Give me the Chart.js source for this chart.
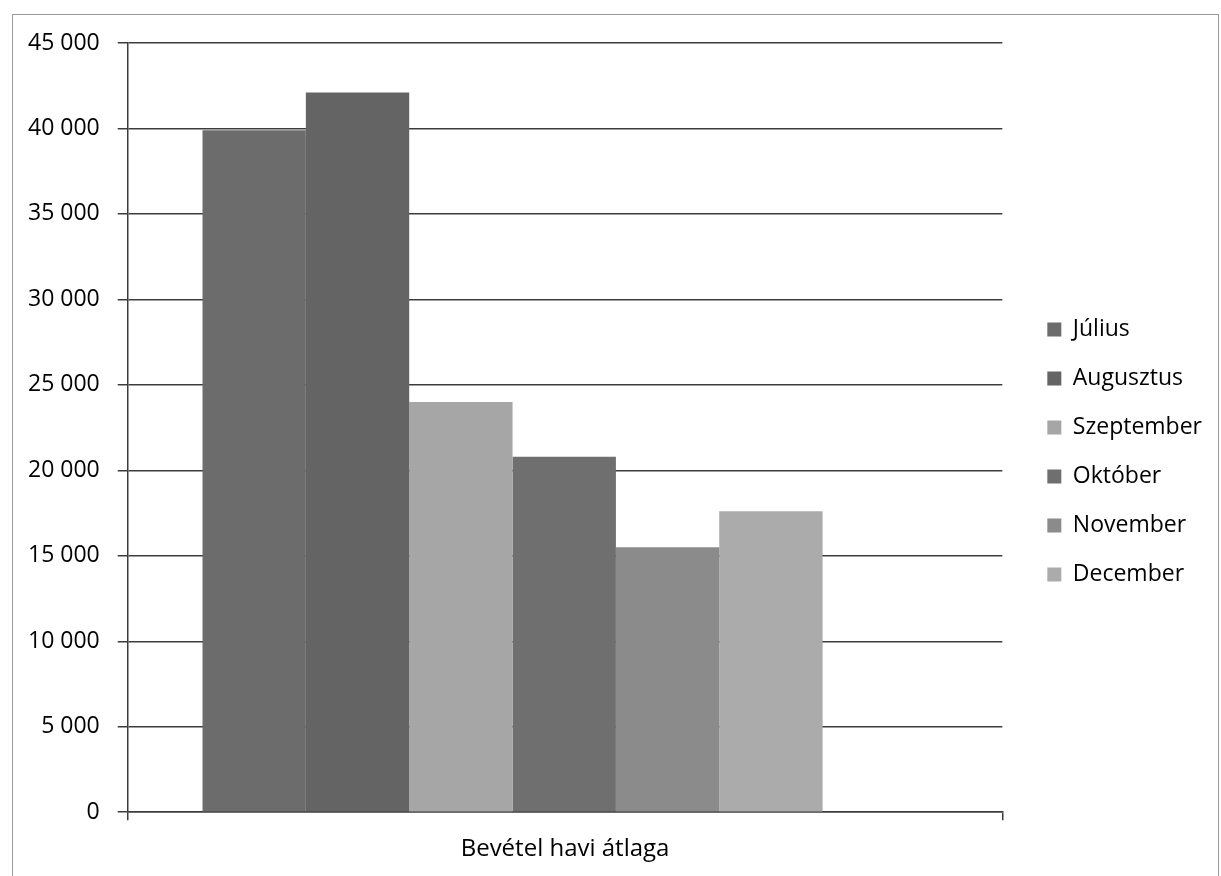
<!DOCTYPE html>
<html>
<head>
<meta charset="utf-8">
<script src="https://cdn.jsdelivr.net/npm/chart.js@4/dist/chart.umd.min.js"></script>
<style>
  html, body { margin: 0; padding: 0; background: #fff; }
  #wrap { position: relative; width: 1221px; height: 876px; }
  #frame {
    position: absolute; left: 12px; top: 14px; width: 1207px; height: 870px;
    border: 1px solid #9a9a9a; box-sizing: border-box; pointer-events: none;
  }
  canvas { position: absolute; left: 0; top: 0; }
</style>
</head>
<body>
<div id="wrap">
  <canvas id="chart" width="1221" height="876"></canvas>
  <div id="frame"></div>
</div>
<script>
// chart data
const categories = ["Bevétel havi átlaga"];
const months = ["Július", "Augusztus", "Szeptember", "Október", "November", "December"];
const monthValues = [39900, 42100, 24000, 20800, 15500, 17600];
const yTicks = [0, 5000, 10000, 15000, 20000, 25000, 30000, 35000, 40000, 45000];

const barColors = ["#6c6c6c", "#646464", "#a6a6a6", "#6f6f6f", "#8b8b8b", "#ababab"];
const gridColor = "#3c3c3c";
const fontFamily = "'Open Sans', 'Noto Sans', sans-serif";

// "45 000" style thousands separator
const fmt = v => String(v).replace(/\B(?=(\d{3})+(?!\d))/g, " ");

const datasets = months.map((m, i) => ({
  label: m,
  data: categories.map((c, ci) => ({ x: ci, y: monthValues[i] })),
  backgroundColor: barColors[i],
  borderWidth: 0,
  categoryPercentage: 0.709,
  barPercentage: 1.0
}));

new Chart(document.getElementById("chart"), {
  type: "bar",
  data: { datasets },
  options: {
    responsive: false,
    animation: false,
    devicePixelRatio: 1,
    layout: { padding: { top: 28, left: 10, right: 9, bottom: 0 } },
    plugins: {
      tooltip: { enabled: false },
      legend: {
        position: "right",
        labels: {
          boxWidth: 14,
          boxHeight: 14,
          padding: 26,
          color: "#000",
          font: { family: fontFamily, size: 23 }
        }
      }
    },
    scales: {
      x: {
        type: "linear",
        min: -44,
        max: 56,
        offset: false,
        afterBuildTicks: s => { s.ticks = [{ value: s.min }, { value: s.max }]; },
        ticks: { display: false },
        grid: { offset: false, drawOnChartArea: false, drawTicks: true, tickLength: 8, color: gridColor, lineWidth: 1.5 },
        border: { display: true, color: gridColor, width: 1.5 },
        title: {
          display: true,
          text: categories[0],
          color: "#000",
          font: { family: fontFamily, size: 24 },
          padding: { top: 15, bottom: 12 }
        }
      },
      y: {
        min: 0,
        max: 45000,
        afterBuildTicks: s => { s.ticks = yTicks.map(v => ({ value: v })); },
        ticks: {
          color: "#000",
          padding: 18,
          autoSkip: false,
          font: { family: fontFamily, size: 23, lineHeight: 2.17 },
          callback: v => fmt(v)
        },
        grid: { color: gridColor, lineWidth: 1.5, tickLength: 10 },
        border: { display: true, color: gridColor, width: 1.5 }
      },
      // empty spacer between plot and legend
      gap: {
        position: "right",
        display: true,
        ticks: { display: false },
        grid: { display: false },
        border: { display: false },
        afterFit: s => { s.width = 19; }
      }
    }
  }
});
</script>
</body>
</html>
